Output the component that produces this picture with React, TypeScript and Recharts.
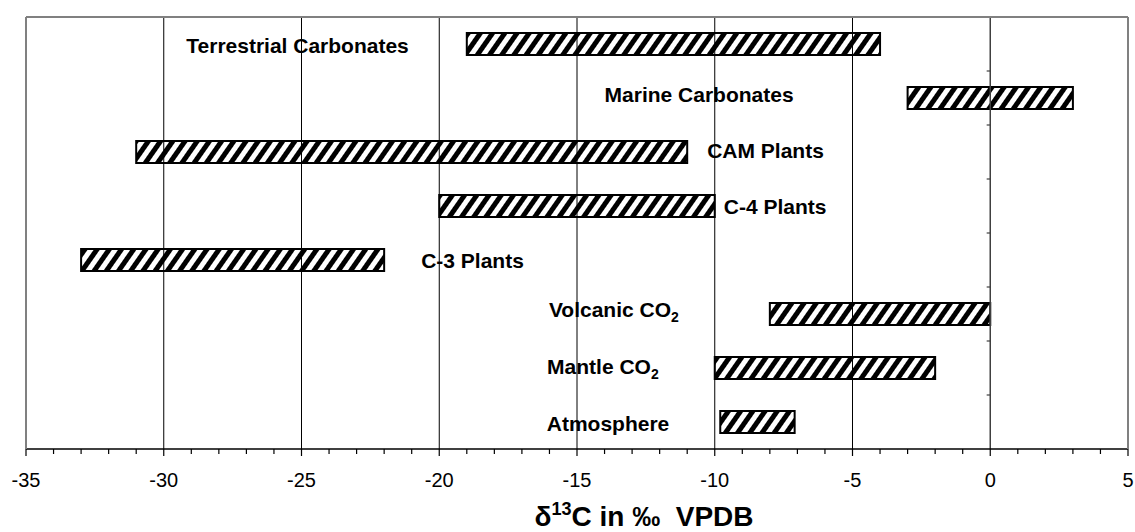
import { Bar, ComposedChart, LabelList, ReferenceLine, XAxis, YAxis } from "recharts";

const FONT = "'Liberation Sans', Arial, sans-serif";

const sources = [
  "Terrestrial Carbonates",
  "Marine Carbonates",
  "CAM Plants",
  "C-4 Plants",
  "C-3 Plants",
  "Volcanic CO2",
  "Mantle CO2",
  "Atmosphere",
];
const lowValues = [-19, -3, -31, -20, -33, -8, -10, -9.8];
const highValues = [-4, 3, -11, -10, -22, 0, -2, -7.1];

const majorTicks = [-35, -30, -25, -20, -15, -10, -5, 0, 5];
const minorTicks = [
  -35, -34, -33, -32, -31, -30, -29, -28, -27, -26, -25, -24, -23, -22, -21, -20, -19, -18, -17, -16, -15,
  -14, -13, -12, -11, -10, -9, -8, -7, -6, -5, -4, -3, -2, -1, 0, 1, 2, 3, 4, 5,
];
const gridValues = [-30, -25, -20, -15, -10, -5];

// where each label sits relative to its bar (side, gap in px, vertical nudge)
const labelPlacement: Record<string, { side: "left" | "right"; gap: number; dy: number }> = {
  "Terrestrial Carbonates": { side: "left", gap: 58, dy: 1 },
  "Marine Carbonates": { side: "left", gap: 114, dy: -4 },
  "CAM Plants": { side: "right", gap: 20, dy: -2 },
  "C-4 Plants": { side: "right", gap: 9, dy: 0 },
  "C-3 Plants": { side: "right", gap: 37, dy: 0 },
  "Volcanic CO2": { side: "left", gap: 91, dy: -5 },
  "Mantle CO2": { side: "left", gap: 56, dy: -2 },
  Atmosphere: { side: "left", gap: 51, dy: 1 },
};

const rows = sources.map((name, i) => ({ name, range: [lowValues[i], highValues[i]] }));

const frameLine = { stroke: "#808080", strokeWidth: 2 };

function XTick({ x, y, payload }: any) {
  const v = payload.value;
  const major = majorTicks.includes(v);
  return (
    <g>
      <line x1={x} x2={x} y1={y} y2={y + (major ? 7 : 5)} stroke="#000" strokeWidth={1.2} />
      {major ? (
        <text x={x} y={y + 38} textAnchor="middle" fontSize={20} fontFamily={FONT} fill="#000">
          {v}
        </text>
      ) : null}
    </g>
  );
}

function AxisTitle({ viewBox }: any) {
  const cx = viewBox.x + viewBox.width / 2 + 67;
  return (
    <text x={cx} y={viewBox.y + 77} textAnchor="middle" fontSize={28} fontWeight="bold" fontFamily={FONT} fill="#000">
      δ
      <tspan fontSize={18} dy={-11}>13</tspan>
      <tspan dy={11}>{"C in ‰\u00A0 VPDB"}</tspan>
    </text>
  );
}

function SourceLabel({ x, y, width, height, value }: any) {
  const p = labelPlacement[value];
  const left = Math.min(x, x + width);
  const right = Math.max(x, x + width);
  const tx = p.side === "left" ? left - p.gap : right + p.gap;
  const ty = y + height / 2 + p.dy + 7.5;
  const isCO2 = value.endsWith("CO2");
  return (
    <text
      x={tx}
      y={ty}
      textAnchor={p.side === "left" ? "end" : "start"}
      fontSize={21}
      fontWeight="bold"
      fontFamily={FONT}
      fill="#000"
    >
      {isCO2 ? (
        <>
          {value.slice(0, -1)}
          <tspan fontSize={14} dy={5}>2</tspan>
        </>
      ) : (
        value
      )}
    </text>
  );
}

export default function App() {
  return (
    <div style={{ position: "absolute", left: 0, top: 0, background: "#fff" }}>
      <ComposedChart
        width={1135}
        height={532}
        layout="vertical"
        data={rows}
        margin={{ top: 16, right: 6, bottom: 23, left: 25 }}
      >
        <defs>
          <pattern id="hatch" patternUnits="userSpaceOnUse" width={10} height={10} patternTransform="rotate(35)">
            <rect x={0} y={0} width={10} height={10} fill="#fff" />
            <rect x={0} y={0} width={5} height={10} fill="#000" />
          </pattern>
        </defs>
        <XAxis
          type="number"
          dataKey="range"
          domain={[-35, 5]}
          ticks={minorTicks}
          interval={0}
          allowDataOverflow
          tickSize={0}
          tickMargin={0}
          tickLine={false}
          tick={<XTick />}
          axisLine={{ stroke: "#000", strokeWidth: 1.5 }}
          height={60}
          label={{ content: AxisTitle }}
        />
        <XAxis
          xAxisId="top"
          orientation="top"
          type="number"
          domain={[-35, 5]}
          allowDataOverflow
          tick={false}
          tickLine={false}
          axisLine={frameLine}
          height={1}
        />
        <YAxis
          yAxisId="cat"
          type="category"
          dataKey="name"
          width={1}
          tick={false}
          tickLine={false}
          axisLine={frameLine}
        />
        <YAxis
          yAxisId="right"
          orientation="right"
          type="category"
          dataKey="name"
          width={1}
          tick={false}
          tickLine={false}
          axisLine={frameLine}
        />
        {gridValues.map((v) => (
          <ReferenceLine key={v} yAxisId="cat" x={v} stroke="#000" strokeWidth={1} />
        ))}
        <Bar
          yAxisId="cat"
          dataKey="range"
          barSize={22}
          fill="url(#hatch)"
          stroke="#000"
          strokeWidth={2}
          isAnimationActive={false}
        >
          <LabelList dataKey="name" content={SourceLabel} />
        </Bar>
        <ReferenceLine yAxisId="cat" x={0} stroke="#404040" strokeWidth={1.5} />
        {sources.slice(1).map((s) => (
          <ReferenceLine
            key={s}
            yAxisId="cat"
            position="start"
            segment={[
              { x: -0.13, y: s },
              { x: 0, y: s },
            ]}
            stroke="#404040"
            strokeWidth={1.2}
          />
        ))}
      </ComposedChart>
    </div>
  );
}
